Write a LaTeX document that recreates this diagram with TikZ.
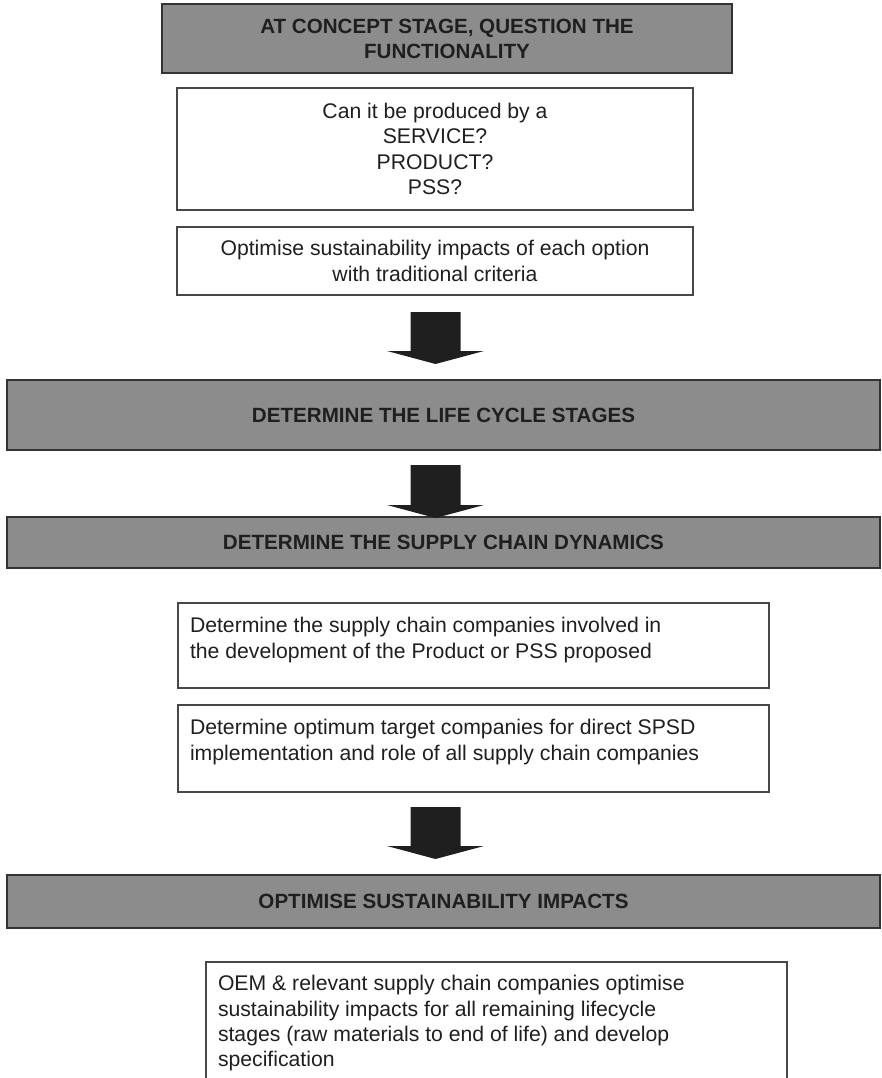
\documentclass[tikz,border=0pt]{standalone}
\usepackage{fontspec}
\setmainfont{Liberation Sans}
\usetikzlibrary{calc}

% filled block arrow from a start coordinate down to a tip coordinate
\newcommand{\blockdown}[2]{%
  \fill[blockarrow] let \p1=(#1), \p2=(#2) in
    (\x1-25,\y1) -- (\x1+25,\y1) -- (\x1+25,\y2+13) -- (\x1+48.5,\y2+13)
    -- (\x1,\y2) -- (\x1-48.5,\y2+13) -- (\x1-25,\y2+13) -- cycle;}

\begin{document}
\begin{tikzpicture}[x=1pt,y=-1pt,
  every node/.style={inner sep=0pt, outer sep=0pt, text=black!88},
  bodyfont/.style={font=\fontsize{21.2}{25.3}\selectfont},
  header/.style={draw=black!80, line width=2.2pt, fill=black!45,
    font=\fontsize{20.6}{25}\selectfont\bfseries, align=center},
  textbox/.style={draw=black!72, line width=2pt, fill=white},
  bodytext/.style={bodyfont, align=left, anchor=north west},
  blockarrow/.style={fill=black!88}]

\useasboundingbox (0,0) rectangle (882,1078);
\clip (0,0) rectangle (882,1078);

% concept stage
\node[header, minimum width=570pt, minimum height=69pt] (h1) at (447,38.5)
  {AT CONCEPT STAGE, QUESTION THE\\FUNCTIONALITY};
\node[textbox, bodyfont, align=center, minimum width=516pt, minimum height=122pt] (ask) at (435,149)
  {Can it be produced by a\\SERVICE?\\PRODUCT?\\PSS?};
\node[textbox, bodyfont, align=center, minimum width=516pt, minimum height=68pt] (opt) at (435,261)
  {Optimise sustainability impacts of each option\\with traditional criteria};

% life cycle and supply chain
\node[header, minimum width=873pt, minimum height=70pt] (h2) at (443.5,415)
  {DETERMINE THE LIFE CYCLE STAGES};
\node[header, minimum width=873pt, minimum height=51pt] (h3) at (443.5,542.5)
  {DETERMINE THE SUPPLY CHAIN DYNAMICS};

\node[textbox, minimum width=591pt, minimum height=85pt] (sc) at (473.5,645.5) {};
\node[bodytext] (sctext) at ($(sc.north west)+(12,14.5)$)
  {Determine the supply chain companies involved in\\the development of the Product or PSS proposed};
\node[textbox, minimum width=591pt, minimum height=87pt] (tg) at (473.5,748.5) {};
\node[bodytext] (tgtext) at ($(tg.north west)+(12,14.5)$)
  {Determine optimum target companies for direct SPSD\\implementation and role of all supply chain companies};

% sustainability optimisation
\node[header, minimum width=873pt, minimum height=53pt] (h4) at (443.5,901.5)
  {OPTIMISE SUSTAINABILITY IMPACTS};
\node[textbox, minimum width=581pt, minimum height=160pt] (oem) at (496.5,1042) {};
\node[bodytext] (oemtext) at ($(oem.north west)+(12,13.5)$)
  {OEM \& relevant supply chain companies optimise\\sustainability impacts for all remaining lifecycle\\stages (raw materials to end of life) and develop\\specification};

% connecting block arrows
\coordinate (a1s) at ($(opt.south)+(0.5,17)$);
\coordinate (a1t) at ($(opt.south)+(0.5,69)$);
\coordinate (a2s) at ($(h2.south)+(-8,15)$);
\coordinate (a2t) at ($(h3.north)+(-8,1)$);
\coordinate (a3s) at ($(tg.south)+(-38,15)$);
\coordinate (a3t) at ($(h4.north)+(-8,-16)$);
\blockdown{a1s}{a1t}
\blockdown{a2s}{a2t}
\blockdown{a3s}{a3t}
\end{tikzpicture}
\end{document}
